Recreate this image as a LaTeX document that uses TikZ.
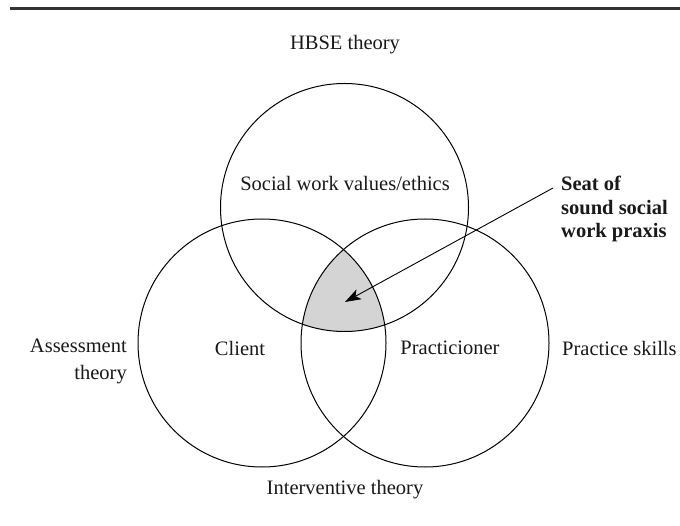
\documentclass[tikz,border=0pt]{standalone}
\usepackage{fontspec}
\setmainfont{Liberation Serif}
\usetikzlibrary{arrows.meta}
\begin{document}
\begin{tikzpicture}[x=1pt,y=-1pt,
  venn/.style={circle,draw,line width=1pt,minimum size=248pt,inner sep=0pt},
  lbl/.style={inner sep=0pt,font=\fontsize{20.5}{27}\selectfont,text=black!90},
  rulestyle/.style={line width=3pt,black!80}]
\useasboundingbox (0,0) rectangle (680,526);
\coordinate (r1) at (10,9);
\coordinate (r2) at (680,9);
\draw[rulestyle] (r1) -- (r2);
% shaded intersection
\begin{scope}
  \clip (344.5,207.5) circle (124pt);
  \clip (262,343) circle (124pt);
  \fill[black!17] (425,343) circle (124pt);
\end{scope}
\node[venn] (T) at (344.5,207.5) {};
\node[venn] (L) at (262,343) {};
\node[venn] (R) at (425,343) {};
% labels
\node[lbl] (hbse) at (345,45) {HBSE theory};
\node[lbl] (vals) at (345,183) {Social work values/ethics};
\node[lbl] (client) at (240,348) {Client};
\node[lbl] (pract) at (450,348) {Practicioner};
\node[lbl,align=right,anchor=east] (assess) at (127,361) {Assessment\\theory};
\node[lbl,anchor=west] (skills) at (562,348) {Practice skills};
\node[lbl] (interv) at (345,490) {Interventive theory};
\node[lbl,align=left,anchor=west,font=\fontsize{20.5}{23.5}\selectfont\bfseries] (seat) at (561,209) {Seat of\\sound social\\work praxis};
\coordinate (astart) at (553,188);
\coordinate (atip) at (345,302);
\draw[line width=0.9pt,-{Stealth[length=16pt,width=11pt,inset=4pt]}] (astart) -- (atip);
\end{tikzpicture}
\end{document}
